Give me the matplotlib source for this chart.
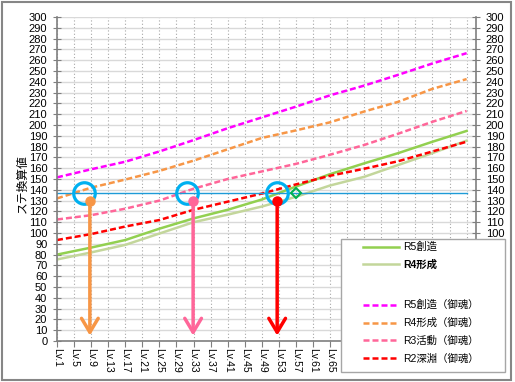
"""Stat-conversion chart: R5/R4 weapons vs. R-series mitama lines, with three crossing callouts."""
import matplotlib
matplotlib.use("Agg")
import matplotlib.pyplot as plt
from matplotlib.lines import Line2D
from matplotlib.patches import Rectangle


plt.rcParams['font.family'] = ['Liberation Sans', 'Noto Sans CJK JP']

# Values, every 8 levels
levels = [1, 9, 17, 25, 33, 41, 49, 57, 65, 73, 81, 89, 97]

r5_sozo = [80, 86.5, 93.5, 104, 113.5, 121.5, 131, 143, 154.5, 164.5, 174, 184.5, 194.5]
r4_keisei = [75.5, 82, 89, 99.5, 110, 117, 124.5, 133.5, 144, 152, 163, 174, 185.5]
r5_sozo_mitama = [151.5, 159, 166, 175.5, 186, 197, 207, 217, 227.5, 236.5, 246.5, 257, 266.5]
r4_keisei_mitama = [132, 142, 149.5, 157.5, 167, 177.5, 188, 195, 202.5, 212.5, 221.5, 233.5, 242.5]
r3_katsudo_mitama = [112.5, 116.5, 122.5, 130, 141, 150, 157, 164, 172.5, 181.5, 192, 203, 213]
r2_shinen_mitama = [93.5, 99, 106, 112, 121.5, 129, 136.5, 145, 153, 159.5, 166.5, 175.5, 184.5]

series_labels = ['R5創造', 'R4形成', 'R5創造（御魂）', 'R4形成（御魂）', 'R3活動（御魂）', 'R2深淵（御魂）']

# Callouts
target_value = 137
circle_levels = [7.4, 31.4, 52.5]
arrow_levels = [8.7, 32.9, 52.6]
arrow_colors = ['#F79646', '#FF6699', '#FF0000']
arrow_top = 129.5
arrow_bottom = 5
marker_level = 57

# gridlines every 4 levels; labels past Lv.65 sit under the legend in the original
tick_levels = list(range(1, 98, 4))
tick_labels = [f'Lv.{n}' if n <= 65 else '' for n in tick_levels]


W, H = 515, 382
fig = plt.figure(figsize=(W / 100, H / 100), dpi=100)
ax = fig.add_axes([57 / W, 1 - 341 / H, (476 - 57) / W, (341 - 17) / H])

ax.set_xlim(1, 99.2)
ax.set_ylim(0, 300)

# grid
ax.set_yticks(range(0, 301, 10))
ax.set_xticks(tick_levels)
ax.set_xticklabels(tick_labels, rotation=-90, fontsize=7.5)
ax.tick_params(axis='y', direction='inout', length=6, width=0.8, color='#7F7F7F', labelsize=8, pad=4)
ax.tick_params(axis='x', direction='out', length=4, width=0.8, color='#7F7F7F', pad=1)
ax.grid(axis='y', color='#D9D9D9', lw=1, ls='-')
ax.grid(axis='x', color='#A6A6A6', lw=0.8, ls=(0, (1, 2)))
ax.set_axisbelow(True)
for side in ['left', 'bottom']:
    ax.spines[side].set_color('#7F7F7F')
    ax.spines[side].set_linewidth(1.2)
ax.spines['top'].set_visible(False)
ax.spines['right'].set_visible(False)

ax2 = ax.twinx()
ax2.set_ylim(0, 300)
ax2.set_yticks(range(0, 301, 10))
ax2.tick_params(axis='y', direction='inout', length=6, width=0.8, color='#7F7F7F', labelsize=8, pad=4)
ax2.spines['right'].set_color('#7F7F7F')
ax2.spines['right'].set_linewidth(1.2)
for side in ['left', 'top', 'bottom']:
    ax2.spines[side].set_visible(False)

# series
lw = 1.8
dash = (2.4, 1.2)
ax.plot(levels, r5_sozo, color='#92D050', lw=lw)
ax.plot(levels, r4_keisei, color='#C3D69B', lw=lw)
ax.plot(levels, r5_sozo_mitama, color='#FF00FF', lw=lw, dashes=dash)
ax.plot(levels, r4_keisei_mitama, color='#F79646', lw=lw, dashes=dash)
ax.plot(levels, r3_katsudo_mitama, color='#FF6699', lw=lw, dashes=dash)
ax.plot(levels, r2_shinen_mitama, color='#FF0000', lw=lw, dashes=dash)

# callouts
ax.plot([levels[0], levels[-1]], [target_value, target_value], color='#1E9BD7', lw=1)
ax.plot(circle_levels, [target_value] * 3, 'o', ms=15.5, mfc='none', mec='#00B0F0', mew=2.3, zorder=5)
ax.plot([marker_level], [target_value], 'D', ms=5, mfc='none', mec='#00B050', mew=1.5, zorder=5)
for x, c in zip(arrow_levels, arrow_colors):
    ax.annotate('', xy=(x, arrow_bottom), xytext=(x, arrow_top),
                arrowprops=dict(arrowstyle='->,head_length=0.5,head_width=0.3',
                                color=c, lw=2.5, mutation_scale=20, shrinkA=0, shrinkB=0),
                zorder=6)
    ax.plot([x], [arrow_top], 'o', ms=6.5, color=c, zorder=7)

fig.text(22 / W, 1 - 184 / H, 'ステ換算値', rotation=90, ha='center', va='center',
         fontsize=8.5, family=['Noto Sans CJK JP'])

# legend box
fig.add_artist(Rectangle((341 / W, 1 - 372 / H), (505 - 341) / W, (372 - 239) / H,
                         transform=fig.transFigure, facecolor='white', edgecolor='#A6A6A6',
                         lw=1, zorder=4))
solid_handles = [
    Line2D([], [], color='#92D050', lw=lw),
    Line2D([], [], color='#C3D69B', lw=lw),
]
dashed_handles = [
    Line2D([], [], color='#FF00FF', lw=lw, dashes=dash),
    Line2D([], [], color='#F79646', lw=lw, dashes=dash),
    Line2D([], [], color='#FF6699', lw=lw, dashes=dash),
    Line2D([], [], color='#FF0000', lw=lw, dashes=dash),
]
leg_kw = dict(loc='upper left', frameon=False, fontsize=7.5, handlelength=3.5,
              handletextpad=0.35, labelspacing=0.72, borderpad=0, borderaxespad=0)
leg1 = fig.legend(solid_handles, series_labels[:2], bbox_to_anchor=(363 / W, 1 - 242 / H), **leg_kw)
leg1.set_zorder(5)
leg1.get_texts()[1].set_fontweight('bold')
leg_kw['labelspacing'] = 0.74
leg2 = fig.legend(dashed_handles, series_labels[2:], bbox_to_anchor=(363 / W, 1 - 300 / H), **leg_kw)
leg2.set_zorder(5)

# outer frame
fig.add_artist(Rectangle((2 / W, 2 / H), (511 - 2) / W, (380 - 2) / H, transform=fig.transFigure,
                         facecolor='none', edgecolor='#868686', lw=1.5, zorder=6))

fig.savefig('out.png', dpi=100)
